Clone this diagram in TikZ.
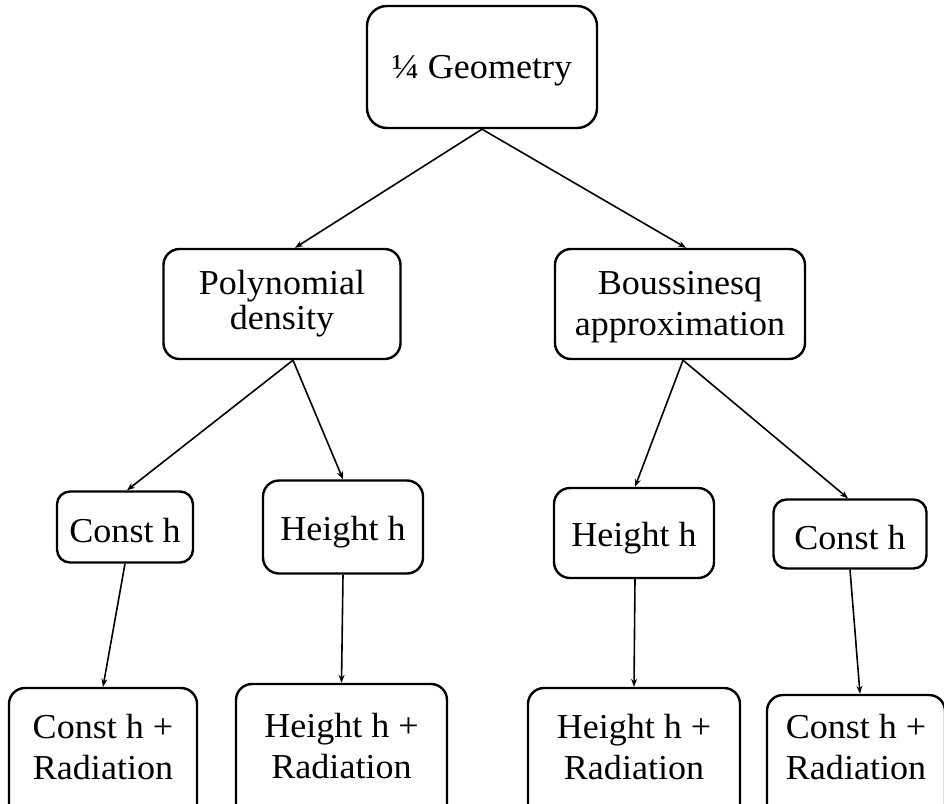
\documentclass[tikz,border=0pt]{standalone}
\usepackage{fontspec}
\setmainfont{Liberation Serif}[FakeStretch=1.03]
\usetikzlibrary{arrows.meta}
\begin{document}
\begin{tikzpicture}[x=1pt,y=-1pt,
  box/.style={draw=black,line width=2.4pt,rounded corners=16pt,inner sep=0pt},
  lbl/.style={inner sep=0pt,align=center,font=\fontsize{35}{35}\selectfont},
  wide/.style={font=\fontsize{35}{41}\selectfont},
  conn/.style={line width=1.6pt,-{Stealth[length=8pt,width=6pt]}}]
\useasboundingbox (0,0) rectangle (944,803);
\clip (0,0) rectangle (944,803);
\node[box,rounded corners=20pt,minimum width=230pt,minimum height=122pt] (top) at (482,67) {};
\node[lbl] at ([yshift=-4pt]top.center) (ttop) {¼ Geometry};
\node[box,minimum width=237pt,minimum height=110pt] (poly) at (282,304) {};
\node[lbl] at (poly.center) (tpoly) {Polynomial\\density};
\node[box,minimum width=250pt,minimum height=110pt] (bous) at (680,304) {};
\node[lbl,wide] at (680,307) (tbous) {Boussinesq\\approximation};
\node[box,rounded corners=13pt,minimum width=136pt,minimum height=71pt] (c1) at (125,527) {};
\node[lbl] at ([yshift=-4pt]c1.center) (tc1) {Const h};
\node[box,minimum width=160pt,minimum height=93pt] (h1) at (343,527) {};
\node[lbl] at ([yshift=-5pt]h1.center) (th1) {Height h};
\node[box,minimum width=160pt,minimum height=90pt] (h2) at (634,533) {};
\node[lbl] at ([yshift=-5pt]h2.center) (th2) {Height h};
\node[box,rounded corners=13pt,minimum width=153pt,minimum height=69pt] (c2) at (850,534) {};
\node[lbl] at ([yshift=-4pt]c2.center) (tc2) {Const h};
\node[box,minimum width=188pt,minimum height=134pt] (cr1) at (103,755) {};
\node[lbl,wide] at (103,747) (tcr1) {Const h +\\Radiation};
\node[box,minimum width=211pt,minimum height=138pt] (hr1) at (341.5,753) {};
\node[lbl,wide] at (341.5,746) (thr1) {Height h +\\Radiation};
\node[box,minimum width=212pt,minimum height=134pt] (hr2) at (634,755) {};
\node[lbl,wide] at (634,747) (thr2) {Height h +\\Radiation};
\node[box,minimum width=178pt,minimum height=134pt] (cr2) at (856,762) {};
\node[lbl,wide] at (856,747) (tcr2) {Const h +\\Radiation};
\draw[conn] (top.south) -- ([xshift=13pt]poly.north);
\draw[conn] (top.south) -- ([xshift=6pt]bous.north);
\draw[conn] ([xshift=11pt]poly.south) -- ([xshift=2pt]c1.north);
\draw[conn] ([xshift=11pt]poly.south) -- (h1.north);
\draw[conn] ([xshift=3pt]bous.south) -- ([xshift=1pt]h2.north);
\draw[conn] ([xshift=3pt]bous.south) -- ([xshift=-2pt]c2.north);
\draw[conn] (c1.south) -- (cr1.north);
\draw[conn] (h1.south) -- (hr1.north);
\draw[conn] ([xshift=1pt]h2.south) -- (hr2.north);
\draw[conn] (c2.south) -- ([xshift=4pt]cr2.north);
\end{tikzpicture}
\end{document}
